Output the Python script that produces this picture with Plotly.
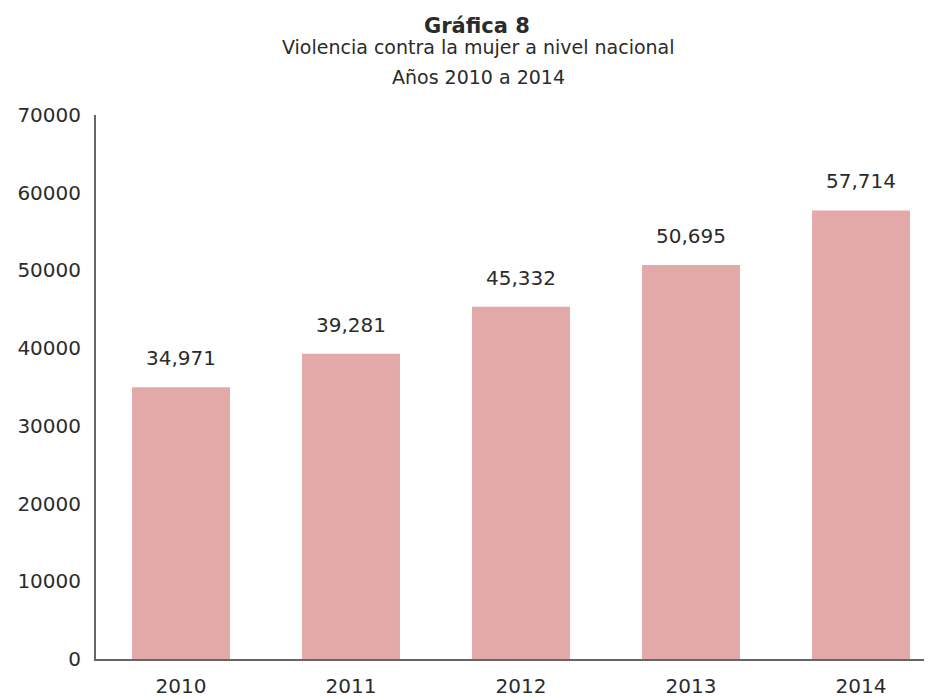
import plotly.graph_objects as go

years = ["2010", "2011", "2012", "2013", "2014"]
values = [34971, 39281, 45332, 50695, 57714]
labels = ["34,971", "39,281", "45,332", "50,695", "57,714"]
y_ticks = [0, 10000, 20000, 30000, 40000, 50000, 60000, 70000]

FONT = "DejaVu Sans"
TXT = "#2b2b2b"
OFF = 8  # page body margin
W, H = 932 - OFF, 698 - OFF
L, T, B = 96 - OFF, 115 - OFF, 36
plot_h = H - T - B
plot_w = W - L

def px_x(px_ref):
    return (px_ref - OFF - L) / plot_w

def px_y(py_ref):
    return (H - B - (py_ref - OFF)) / plot_h

fig = go.Figure()
fig.add_trace(go.Bar(
    x=list(range(len(years))), y=values,
    marker=dict(color="#E3A8A8", line=dict(width=0)),
    hoverinfo="skip",
))

for i, (v, lab) in enumerate(zip(values, labels)):
    fig.add_annotation(x=i, y=v, text=lab, showarrow=False, yanchor="bottom",
                       yshift=15, font=dict(family=FONT, size=20, color=TXT))

fig.add_annotation(x=px_x(477), y=px_y(40), xref="paper", yref="paper", text="<b>Gráfica 8</b>",
                   showarrow=False, yanchor="bottom", font=dict(family=FONT, size=21, color=TXT))
fig.add_annotation(x=px_x(478), y=px_y(60), xref="paper", yref="paper", text="Violencia contra la mujer a nivel nacional",
                   showarrow=False, yanchor="bottom", font=dict(family=FONT, size=19, color=TXT))
fig.add_annotation(x=px_x(478), y=px_y(90), xref="paper", yref="paper", text="Años 2010 a 2014",
                   showarrow=False, yanchor="bottom", font=dict(family=FONT, size=19, color=TXT))

cat_px = 170
fig.update_layout(
    width=W, height=H,
    margin=dict(l=L, r=0, t=T, b=B, pad=0),
    paper_bgcolor="white", plot_bgcolor="white",
    showlegend=False,
    bargap=0.424,
    xaxis=dict(
        tickmode="array", tickvals=list(range(len(years))), ticktext=years,
        range=[-0.5, -0.5 + plot_w / cat_px],
        showgrid=False, zeroline=False,
        showline=True, linecolor="#666666", linewidth=2,
        ticks="outside", ticklen=8, tickcolor="rgba(0,0,0,0)",
        tickfont=dict(family=FONT, size=20, color=TXT),
        fixedrange=True,
    ),
    yaxis=dict(
        range=[0, 70000], tickvals=y_ticks, ticktext=[str(t) for t in y_ticks],
        showgrid=False, zeroline=False,
        showline=True, linecolor="#666666", linewidth=2,
        ticks="outside", ticklen=9, tickcolor="rgba(0,0,0,0)",
        tickfont=dict(family=FONT, size=20, color=TXT),
        fixedrange=True,
    ),
)

fig.write_html("out.html")
